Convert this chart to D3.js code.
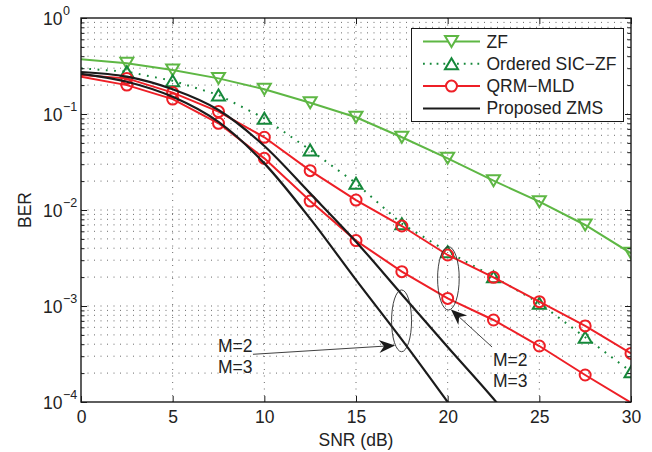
<!DOCTYPE html>
<html>
<head>
<meta charset="utf-8">
<script src="https://cdn.jsdelivr.net/npm/d3@7"></script>
<style>
  html, body { margin: 0; padding: 0; background: #fff; }
  svg { display: block; font-family: "Liberation Sans", Arial, Helvetica, sans-serif; }
</style>
</head>
<body>
<svg id="chart" width="652" height="452"></svg>
<script>
// ---------------- data ----------------
const snr = [0, 2.5, 5, 7.5, 10, 12.5, 15, 17.5, 20, 22.5, 25, 27.5, 30];
const berZF = [0.371, 0.337, 0.287, 0.235, 0.181, 0.131, 0.0924, 0.0572, 0.0345, 0.0202, 0.0122, 0.00698, 0.00354];
const berSIC = [0.299, 0.276, 0.222, 0.158, 0.0902, 0.0422, 0.019, 0.0072, 0.00368, 0.00202, 0.00107, 0.000472, 0.000207];
const berQRM2 = [0.255, 0.235, 0.167, 0.106, 0.0572, 0.0257, 0.0127, 0.00681, 0.0034, 0.00199, 0.00111, 0.00062, 0.000321];
const berQRM3 = [0.245, 0.2, 0.143, 0.080, 0.0345, 0.0124, 0.0048, 0.00228, 0.0012, 0.000715, 0.000383, 0.000191, 0.0000985];
const snrZMS = [0, 2.5, 5, 7.5, 10, 12.5, 15, 17.5, 20, 22.5, 25];
const berZMS2 = [0.274, 0.245, 0.181, 0.110, 0.0464, 0.0149, 0.00468, 0.00132, 0.000374, 0.000108, 0.000028];
const berZMS3 = [0.262, 0.217, 0.151, 0.0826, 0.0306, 0.00813, 0.00187, 0.000446, 0.0001, 0.000022, 0.000005];

const xTicks = [0, 5, 10, 15, 20, 25, 30];
const yExponents = [0, -1, -2, -3, -4];
const legendLabels = ["ZF", "Ordered SIC\u2212ZF", "QRM\u2212MLD", "Proposed ZMS"];
const xLabel = "SNR (dB)";
const yLabel = "BER";

// annotations in data coordinates
const ellipses = [
  { x: [16.94, 18.03], y: [0.00147, 0.000334] },
  { x: [19.45, 20.63], y: [0.00415, 0.000908] }
];
const arrows = [
  { from: [9.38, 0.000314], to: [17.13, 0.000388] },
  { from: [22.42, 0.000374], to: [20.18, 0.00092] }
];
const notes = [
  { x: 9.35, y: 0.000332, text: "M=2", anchor: "end" },
  { x: 9.35, y: 0.0002, text: "M=3", anchor: "end" },
  { x: 22.47, y: 0.000237, text: "M=2", anchor: "start" },
  { x: 22.47, y: 0.000143, text: "M=3", anchor: "start" }
];

// ---------------- layout ----------------
const W = 652, H = 452;
const L = 81, R = 631, T = 18, B = 402;
const C = {
  zf: "#5eb744",
  sic: "#15883a",
  red: "#ee1f26",
  black: "#1b1b1b",
  axis: "#1a1a1a",
  text: "#222",
  grid: "#5a5a5a"
};
const FONT = 17.5;

const svg = d3.select("#chart");
const x = d3.scaleLinear().domain([0, 30]).range([L, R]);
const y = d3.scaleLog().domain([1e-4, 1]).range([B, T]);

svg.append("defs").append("clipPath").attr("id", "clip")
  .append("rect").attr("x", L).attr("y", T).attr("width", R - L).attr("height", B - T);

// ---------------- grid ----------------
const grid = svg.append("g").attr("stroke", C.grid).attr("stroke-width", 0.9)
  .attr("stroke-dasharray", "1,5.5").attr("fill", "none");
xTicks.filter(v => v > 0 && v < 30).forEach(v => {
  grid.append("line").attr("x1", x(v)).attr("x2", x(v)).attr("y1", T).attr("y2", B);
});
const minorVals = [];
for (let e = -4; e < 0; e++) for (let m = 1; m <= 9; m++) {
  const v = m * Math.pow(10, e);
  if (v > 1e-4 && v < 1) minorVals.push(v);
}
minorVals.forEach(v => {
  grid.append("line").attr("x1", L).attr("x2", R).attr("y1", y(v)).attr("y2", y(v));
});

// ---------------- series ----------------
const plot = svg.append("g").attr("clip-path", "url(#clip)");
const line = d3.line().x(d => x(d[0])).y(d => y(d[1]));
const smooth = d3.line().x(d => x(d[0])).y(d => y(d[1])).curve(d3.curveMonotoneX);
const zip = (xs, ys) => xs.map((v, i) => [v, ys[i]]);

const triDown = "M-6.5,-5.5 L6.5,-5.5 L0,5.5 Z";
const triUp = "M-6.5,5.5 L6.5,5.5 L0,-5.5 Z";

function drawMarkers(data, kind, color) {
  const pts = data.filter(d => d[0] > 0 && d[1] >= 1e-4 && d[1] <= 1);
  const g = plot.append("g").attr("fill", "none").attr("stroke", color).attr("stroke-width", 2);
  pts.forEach(d => {
    if (kind === "circle") {
      g.append("circle").attr("cx", x(d[0])).attr("cy", y(d[1])).attr("r", 5.5);
    } else {
      g.append("path").attr("d", kind === "down" ? triDown : triUp)
        .attr("transform", `translate(${x(d[0])},${y(d[1])})`);
    }
  });
}

// ZF
const dZF = zip(snr, berZF);
plot.append("path").attr("d", line(dZF)).attr("fill", "none").attr("stroke", C.zf).attr("stroke-width", 2);
drawMarkers(dZF, "down", C.zf);
// Ordered SIC-ZF
const dSIC = zip(snr, berSIC);
plot.append("path").attr("d", line(dSIC)).attr("fill", "none").attr("stroke", C.sic)
  .attr("stroke-width", 2).attr("stroke-dasharray", "1.8,6.5");
drawMarkers(dSIC, "up", C.sic);
// QRM-MLD
[berQRM2, berQRM3].forEach(arr => {
  const d = zip(snr, arr);
  plot.append("path").attr("d", line(d)).attr("fill", "none").attr("stroke", C.red).attr("stroke-width", 2);
  drawMarkers(d, "circle", C.red);
});
// Proposed ZMS
[berZMS2, berZMS3].forEach(arr => {
  plot.append("path").attr("d", smooth(zip(snrZMS, arr))).attr("fill", "none")
    .attr("stroke", C.black).attr("stroke-width", 2.2);
});

// ---------------- axes ----------------
const ax = svg.append("g").attr("color", C.axis);
const xB = ax.append("g").attr("transform", `translate(0,${B})`)
  .call(d3.axisBottom(x).tickValues(xTicks).tickSize(-6).tickPadding(8.5).tickFormat(d3.format("d")));
const xT = ax.append("g").attr("transform", `translate(0,${T})`)
  .call(d3.axisTop(x).tickValues(xTicks).tickSize(-6).tickFormat(""));
const majorY = yExponents.map(e => Math.pow(10, e));
const yL = ax.append("g").attr("transform", `translate(${L},0)`)
  .call(d3.axisLeft(y).tickValues(majorY).tickSize(-6).tickFormat(""));
const yR = ax.append("g").attr("transform", `translate(${R},0)`)
  .call(d3.axisRight(y).tickValues(majorY).tickSize(-6).tickFormat(""));
const yLm = ax.append("g").attr("transform", `translate(${L},0)`)
  .call(d3.axisLeft(y).tickValues(minorVals.filter(v => !majorY.includes(v))).tickSize(-3.5).tickFormat(""));
const yRm = ax.append("g").attr("transform", `translate(${R},0)`)
  .call(d3.axisRight(y).tickValues(minorVals.filter(v => !majorY.includes(v))).tickSize(-3.5).tickFormat(""));
[xB, xT, yL, yR, yLm, yRm].forEach(g => {
  g.select(".domain").remove();
  g.selectAll(".tick line").attr("stroke-width", 1);
});
xB.selectAll("text").attr("font-size", FONT).attr("fill", C.text)
  .attr("font-family", "Liberation Sans, Arial, sans-serif");

// box
svg.append("rect").attr("x", L).attr("y", T).attr("width", R - L).attr("height", B - T)
  .attr("fill", "none").attr("stroke", C.axis).attr("stroke-width", 1.4);

// y tick labels 10^e
yExponents.forEach(e => {
  const t = svg.append("text").attr("x", 43).attr("y", y(Math.pow(10, e)) + 7)
    .attr("font-size", FONT).attr("fill", C.text);
  t.append("tspan").text("10");
  t.append("tspan").attr("font-size", 12.5).attr("dy", -10).attr("dx", 0.5)
    .text(e === 0 ? "0" : "\u2212" + Math.abs(e));
});

// axis labels
svg.append("text").attr("x", (L + R) / 2).attr("y", 446).attr("text-anchor", "middle")
  .attr("font-size", FONT).attr("fill", C.text).text(xLabel);
svg.append("text").attr("transform", `translate(31,${(T + B) / 2}) rotate(-90)`)
  .attr("text-anchor", "middle").attr("font-size", FONT).attr("fill", C.text).text(yLabel);

// ---------------- annotations ----------------
const ann = svg.append("g");
ellipses.forEach(el => {
  const x0 = x(el.x[0]), x1 = x(el.x[1]), y0 = y(el.y[0]), y1 = y(el.y[1]);
  ann.append("ellipse").attr("cx", (x0 + x1) / 2).attr("cy", (y0 + y1) / 2)
    .attr("rx", Math.abs(x1 - x0) / 2).attr("ry", Math.abs(y1 - y0) / 2)
    .attr("fill", "none").attr("stroke", "#2a2a2a").attr("stroke-width", 0.9);
});
arrows.forEach(a => {
  const fx = x(a.from[0]), fy = y(a.from[1]), tx = x(a.to[0]), ty = y(a.to[1]);
  const ang = Math.atan2(ty - fy, tx - fx);
  const len = 16, half = 6.5, notch = 11;
  const cos = Math.cos(ang), sin = Math.sin(ang);
  const bx = tx - len * cos, by = ty - len * sin;
  const nx = tx - notch * cos, ny = ty - notch * sin;
  ann.append("line").attr("x1", fx).attr("y1", fy).attr("x2", nx).attr("y2", ny)
    .attr("stroke", "#2a2a2a").attr("stroke-width", 0.9);
  const p1 = [bx - half * sin, by + half * cos], p2 = [bx + half * sin, by - half * cos];
  ann.append("path").attr("d", `M${tx},${ty} L${p1[0]},${p1[1]} L${nx},${ny} L${p2[0]},${p2[1]} Z`)
    .attr("fill", "#1a1a1a");
});
notes.forEach(n => {
  ann.append("text").attr("x", x(n.x)).attr("y", y(n.y)).attr("text-anchor", n.anchor)
    .attr("font-size", FONT).attr("fill", C.text).text(n.text);
});

// ---------------- legend ----------------
const lg = svg.append("g");
lg.append("rect").attr("x", 411.5).attr("y", 28.5).attr("width", 212).attr("height", 93)
  .attr("fill", "#fff").attr("stroke", C.axis).attr("stroke-width", 1);
const legendStyles = [
  { color: C.zf, dash: null, marker: "down" },
  { color: C.sic, dash: "1.8,5", marker: "up" },
  { color: C.red, dash: null, marker: "circle" },
  { color: C.black, dash: null, marker: null }
];
legendLabels.forEach((lab, i) => {
  const cy = 41.5 + i * 22.3;
  const s = legendStyles[i];
  const ln = lg.append("line").attr("x1", 423).attr("x2", 480).attr("y1", cy).attr("y2", cy)
    .attr("stroke", s.color).attr("stroke-width", 2);
  if (s.dash) ln.attr("stroke-dasharray", s.dash);
  if (s.marker === "circle") {
    lg.append("circle").attr("cx", 451.5).attr("cy", cy).attr("r", 5.5)
      .attr("fill", "#fff").attr("stroke", s.color).attr("stroke-width", 2);
  } else if (s.marker) {
    lg.append("path").attr("d", s.marker === "down" ? triDown : triUp)
      .attr("transform", `translate(451.5,${cy})`)
      .attr("fill", "#fff").attr("stroke", s.color).attr("stroke-width", 2);
  }
  lg.append("text").attr("x", 486.5).attr("y", cy + 6).attr("font-size", FONT)
    .attr("fill", C.text).text(lab);
});
</script>
</body>
</html>
